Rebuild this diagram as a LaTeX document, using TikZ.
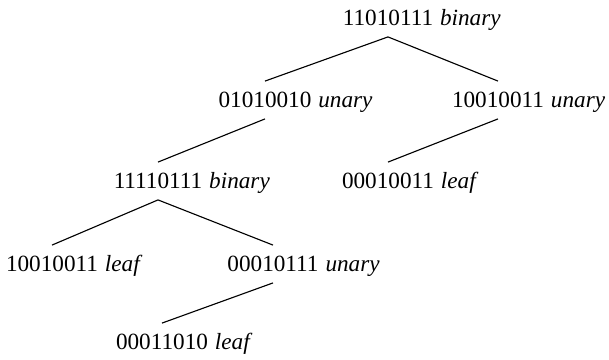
\documentclass[tikz,border=0pt]{standalone}
\usepackage{fontspec}
\setmainfont{Liberation Serif}
\usetikzlibrary{positioning}

\begin{document}
\begin{tikzpicture}[x=0.025cm, y=-0.025cm,
        every node/.style={font=\fontsize{16.5}{19}\selectfont},
        num/.style={inner xsep=0pt, inner ysep=0.27cm},
        kind/.style={inner sep=0pt, font=\fontsize{16.5}{19}\selectfont\itshape},
        edge/.style={line width=0.8pt},
        node distance=0.16cm]
      \useasboundingbox (0,0) rectangle (609,360);
      % level 0
      \node[num] (root) at (388,18) {11010111};
      \node[kind, base right=of root] (rootk) {binary};
      % level 1
      \node[num] (n0) at (265,100) {01010010};
      \node[kind, base right=of n0] (n0k) {unary};
      \node[num] (n1) at (498,100) {10010011};
      \node[kind, base right=of n1] (n1k) {unary};
      % level 2
      \node[num] (n00) at (158,181) {11110111};
      \node[kind, base right=of n00] (n00k) {binary};
      \node[num] (n10) at (388,181) {00010011};
      \node[kind, base right=of n10] (n10k) {leaf};
      % level 3
      \node[num] (n000) at (52,264) {10010011};
      \node[kind, base right=of n000] (n000k) {leaf};
      \node[num] (n001) at (273,264) {00010111};
      \node[kind, base right=of n001] (n001k) {unary};
      % level 4
      \node[num] (n0010) at (162,342) {00011010};
      \node[kind, base right=of n0010] (n0010k) {leaf};
      % edges
      \draw[edge] (root.south) -- (n0.north);
      \draw[edge] (root.south) -- (n1.north);
      \draw[edge] (n0.south) -- (n00.north);
      \draw[edge] (n1.south) -- (n10.north);
      \draw[edge] (n00.south) -- (n000.north);
      \draw[edge] (n00.south) -- (n001.north);
      \draw[edge] (n001.south) -- (n0010.north);
\end{tikzpicture}
\end{document}
